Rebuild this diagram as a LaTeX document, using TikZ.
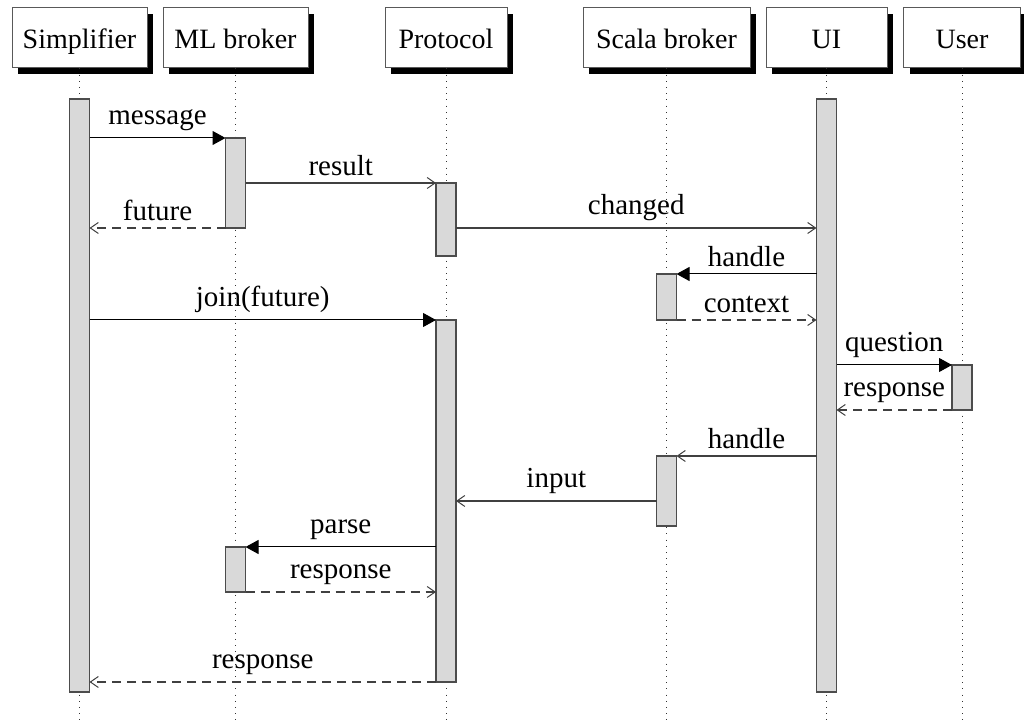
\documentclass[tikz,border=0pt]{standalone}
\usepackage{fontspec}
\setmainfont{Liberation Serif}
\usetikzlibrary{arrows.meta,shadows}

\tikzset{
  every node/.style={font=\fontsize{14.5}{17}\selectfont},
  header/.style={draw=black!65, line width=0.5pt, fill=white, inner sep=0pt,
    minimum height=30pt, text height=11pt, text depth=0pt,
    font=\fontsize{14}{17}\selectfont,
    drop shadow={fill=black, opacity=1, shadow xshift=3pt, shadow yshift=-3pt}},
  lifeline/.style={black!80, line width=0.5pt, dash pattern=on 0.5pt off 2.6pt},
  act/.style={draw=black!70, line width=0.6pt, fill=black!15, inner sep=0pt,
    outer sep=0pt, minimum width=10pt},
  call/.style={black, line width=0.5pt, -{Triangle[length=6.5pt,width=7pt]}},
  msg/.style={black!75, line width=0.6pt, -{Straight Barb[length=4pt,width=5.5pt,line width=0.5pt]}},
  reply/.style={msg, dash pattern=on 4.5pt off 3pt},
  lbl/.style={midway, above, text=black}
}

\begin{document}
\begin{tikzpicture}[x=0.5pt, y=-0.5pt]
  \useasboundingbox (0,0) rectangle (1024,726);

  % participants
  \node[header, minimum width=67.5pt] (simp)  at (79.5,38)  {Simplifier};
  \node[header, minimum width=72.5pt] (ml)    at (235.5,38) {ML broker};
  \node[header, minimum width=61pt]   (prot)  at (446,38)   {Protocol};
  \node[header, minimum width=83.5pt] (scala) at (666.5,38) {Scala broker};
  \node[header, minimum width=60.5pt] (ui)    at (826.5,38) {UI};
  \node[header, minimum width=58.5pt] (user)  at (962,38)   {User};

  % lifelines
  \foreach \p in {simp,ml,prot,scala,ui,user}
    \draw[lifeline] (\p.south) -- (\p.south |- 0,720);

  % activations
  \node[act, minimum height=296.5pt] (simp1)  at (79.5,395.5) {};
  \node[act, minimum height=296.5pt] (ui1)    at (826.5,395.5) {};
  \node[act, minimum height=45pt]    (ml1)    at (235.5,183) {};
  \node[act, minimum height=36.5pt]  (prot1)  at (446,219.5) {};
  \node[act, minimum height=23pt]    (scala1) at (666.5,297) {};
  \node[act, minimum height=181pt]   (prot2)  at (446,501) {};
  \node[act, minimum height=22.5pt]  (user1)  at (962,387.5) {};
  \node[act, minimum height=35pt]    (scala2) at (666.5,491) {};
  \node[act, minimum height=22.5pt]  (ml2)    at (235.5,569.5) {};

  % messages
  \draw[call]  (simp1.east |- ml1.north) -- node[lbl] {message} (ml1.north west);
  \draw[msg]   (ml1.east |- prot1.north) -- node[lbl] {result} (prot1.north west);
  \draw[reply] (ml1.south west) -- node[lbl] {future} (simp1.east |- ml1.south);
  \draw[msg]   (prot1.east |- ml1.south) -- node[lbl] {changed} (ui1.west |- ml1.south);
  \draw[call]  (ui1.west |- scala1.north) -- node[lbl] {handle} (scala1.north east);
  \draw[reply] (scala1.south east) -- node[lbl] {context} (ui1.west |- scala1.south);
  \draw[call]  (simp1.east |- prot2.north) -- node[lbl] {join(future)} (prot2.north west);
  \draw[call]  (ui1.east |- user1.north) -- node[lbl] {question} (user1.north west);
  \draw[reply] (user1.south west) -- node[lbl] {response} (ui1.east |- user1.south);
  \draw[msg]   (ui1.west |- scala2.north) -- node[lbl] {handle} (scala2.north east);
  \draw[msg]   (scala2.west |- prot2.center) -- node[lbl] {input} (prot2.east);
  \draw[call]  (prot2.west |- ml2.north) -- node[lbl] {parse} (ml2.north east);
  \draw[reply] (ml2.south east) -- node[lbl] {response} (prot2.west |- ml2.south);
  \draw[reply] (prot2.south west) -- node[lbl] {response} (simp1.east |- prot2.south);
\end{tikzpicture}
\end{document}
